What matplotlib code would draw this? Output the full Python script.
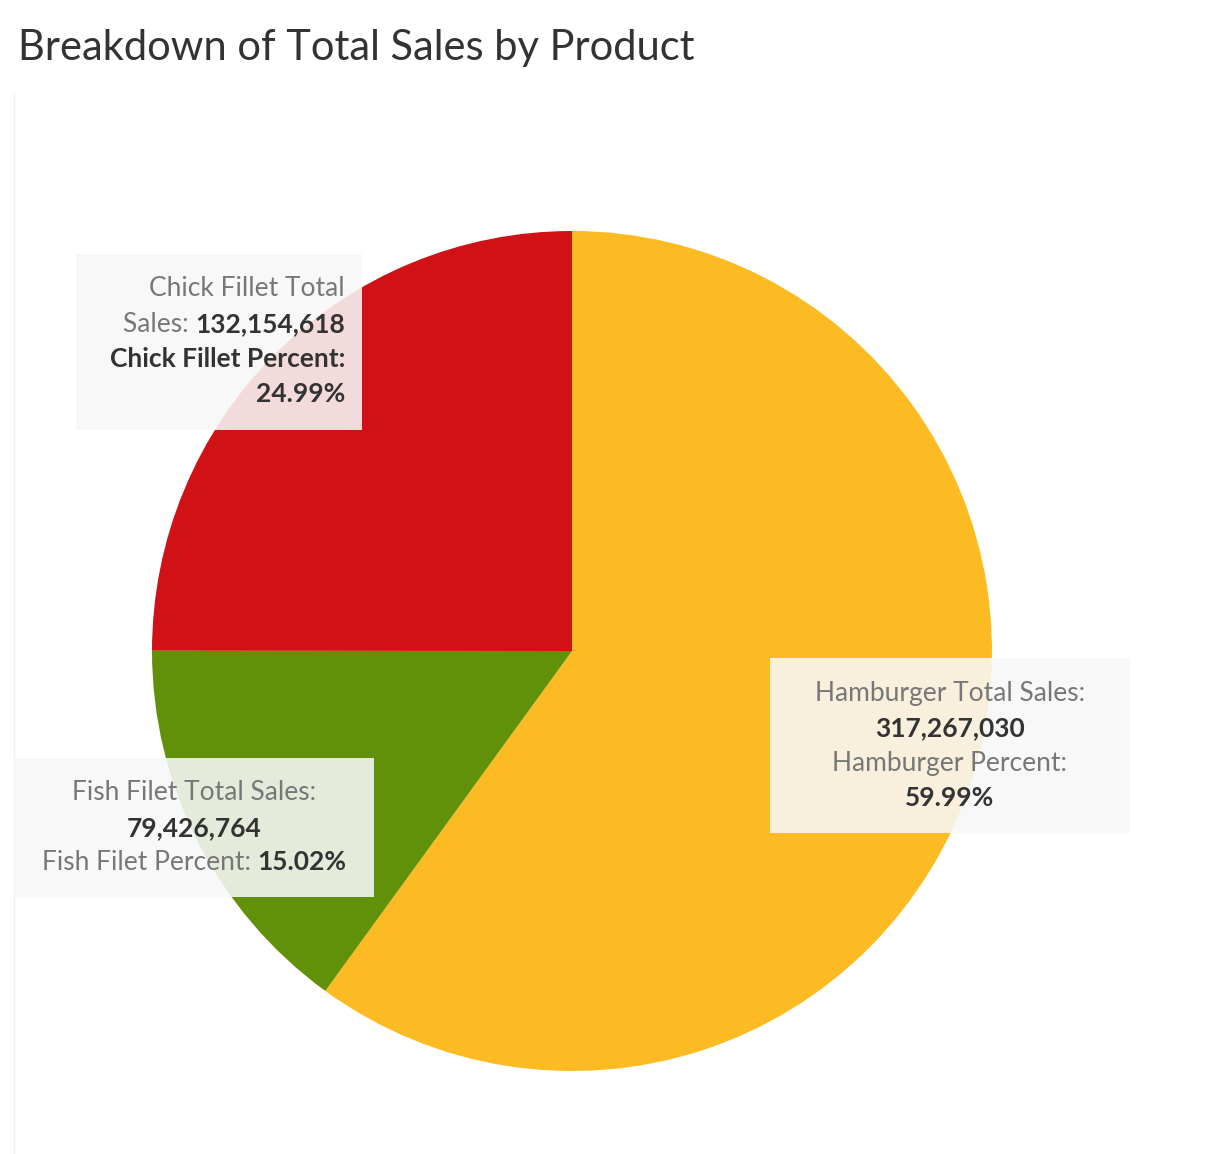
import matplotlib.pyplot as plt
from matplotlib.patches import Rectangle

products = ["Hamburger", "Fish Filet", "Chick Fillet"]
sales = [317267030, 79426764, 132154618]
percents = ["59.99%", "15.02%", "24.99%"]
colors = ["#FCBB22", "#619108", "#D01116"]

plt.rcParams['font.family'] = ['Lato', 'DejaVu Sans']
fig = plt.figure(figsize=(12.06, 11.54), dpi=100)
ax = fig.add_axes([0, 0, 1, 1])

# y axis is inverted below, so counterclock=True draws clockwise on screen
ax.pie(sales, colors=colors, startangle=-90, counterclock=True,
       center=(572, 651), radius=420, frame=True,
       wedgeprops=dict(linewidth=0))
ax.set_xlim(0, 1206)
ax.set_ylim(1154, 0)
ax.set_aspect('auto')
ax.axis('off')

ax.plot([14, 14], [95, 1154], color="#eeeeee", lw=1)
fig.text(18 / 1206, 1 - 48 / 1154, "Breakdown of Total Sales by Product",
         fontsize=30, color="#333333", va='center', ha='left')

gray, dark = "#777777", "#333333"
renderer = fig.canvas.get_renderer()


def line(x, y, parts, align):
    # parts: list of (text, bold)
    objs = []
    for txt, bold in parts:
        t = ax.text(0, y, txt, fontsize=19, va='center', ha='left',
                    color=dark if bold else gray,
                    fontweight='bold' if bold else 'normal', zorder=3)
        objs.append(t)
    widths = [t.get_window_extent(renderer).width for t in objs]
    total = sum(widths)
    start = x - total if align == 'right' else x - total / 2
    for t, w in zip(objs, widths):
        t.set_x(start)
        start += w


def box(x0, y0, x1, y1):
    ax.add_patch(Rectangle((x0, y0), x1 - x0, y1 - y0, facecolor="#f8f8f8",
                           alpha=0.88, edgecolor='none', zorder=2))


box(76, 254, 362, 430)
line(345, 289, [("Chick Fillet Total", False)], 'right')
line(345, 324, [("Sales: ", False), ("132,154,618", True)], 'right')
line(345, 359, [("Chick Fillet Percent:", True)], 'right')
line(345, 394, [(percents[2], True)], 'right')

box(14, 758, 374, 897)
line(194, 793, [("Fish Filet Total Sales:", False)], 'center')
line(194, 828, [("79,426,764", True)], 'center')
line(194, 862, [("Fish Filet Percent: ", False), (percents[1], True)], 'center')

box(770, 658, 1130, 833)
line(950, 693, [("Hamburger Total Sales:", False)], 'center')
line(950, 728, [("317,267,030", True)], 'center')
line(950, 763, [("Hamburger Percent:", False)], 'center')
line(950, 798, [(percents[0], True)], 'center')

fig.savefig("out.png", dpi=100)
